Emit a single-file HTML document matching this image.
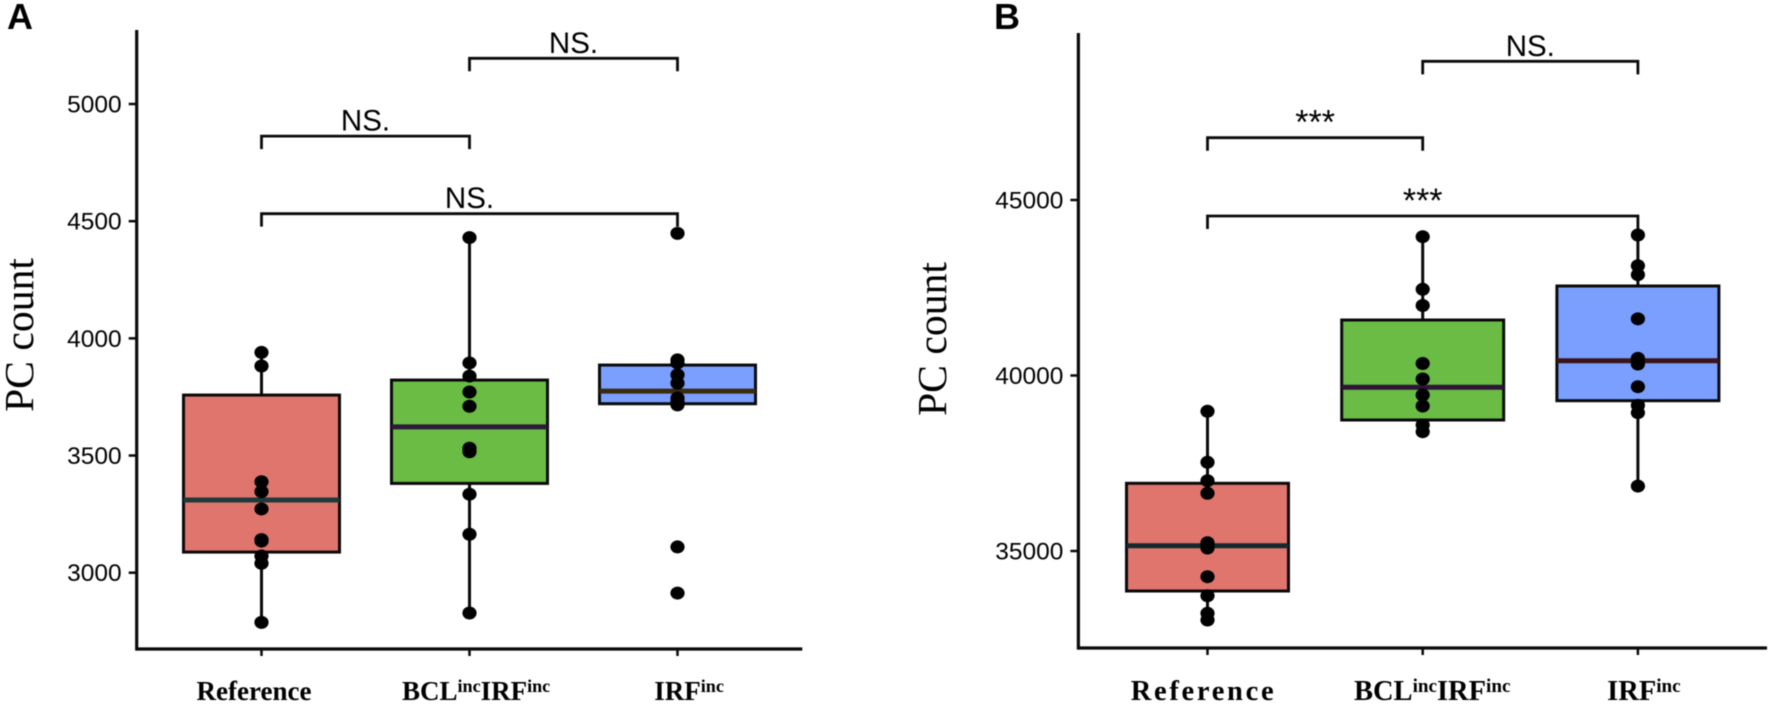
<!DOCTYPE html>
<html lang="en">
<head>
<meta charset="utf-8">
<title>PC count box plots</title>
<style>
html,body{margin:0;padding:0;background:#fff;width:1772px;height:705px;overflow:hidden}
svg{display:block;filter:blur(0.45px)}
text{fill:#000}
.tick{font-family:"Liberation Sans",sans-serif;font-size:24.5px}
.sig{font-family:"Liberation Sans",sans-serif;font-size:29.5px}
.stars{font-family:"Liberation Sans",sans-serif;font-size:34px}
.ytitle{font-family:"Liberation Serif",serif;font-size:41.7px}
.xlab{font-family:"Liberation Serif",serif;font-weight:bold}
.letter{font-family:"Liberation Sans",sans-serif;font-weight:bold;font-size:36px;fill:#000}
</style>
</head>
<body>
<svg id="figure" xmlns="http://www.w3.org/2000/svg" width="1772" height="705" viewBox="0 0 1772 705">
  <rect x="0" y="0" width="1772" height="705" fill="#fff"/>
  <text class="letter" x="7" y="29">A</text>
  <text class="letter" x="994" y="29">B</text>
  <g id="panelA"></g>
  <g id="panelB"></g>
</svg>
<script>
// Shared categories: each label alternates normal and superscript segments
const categoryKeys = ['reference', 'bcl-irf', 'irf'];
const categorySegments = [['Reference'], ['BCL', 'inc', 'IRF', 'inc'], ['IRF', 'inc']];
const yTitle = 'PC count';

// Panel A data
const aTicks = [3000, 3500, 4000, 4500, 5000];
const aQ1 = [3088, 3381, 3721];
const aMedian = [3310, 3622, 3775];
const aQ3 = [3758, 3822, 3886];
const aWhiskerLow = [2788, 2828, 3721];
const aWhiskerHigh = [3940, 4430, 3886];
const aPointsReference = [3940, 3882, 3388, 3346, 3272, 3141, 3135, 3071, 3040, 2788];
const aPointsBcl = [4430, 3895, 3839, 3771, 3710, 3531, 3516, 3335, 3164, 2828];
const aPointsIrf = [4448, 3908, 3895, 3844, 3809, 3745, 3730, 3716, 3110, 2913];
const aBracketFrom = [0, 0, 1];
const aBracketTo = [2, 1, 2];
const aBracketLevel = [4532, 4863, 5195];
const aBracketLabel = ['NS.', 'NS.', 'NS.'];

// Panel B data
const bTicks = [35000, 40000, 45000];
const bQ1 = [33860, 38732, 39282];
const bMedian = [35151, 39664, 40422];
const bQ3 = [36929, 41581, 42550];
const bWhiskerLow = [33034, 38399, 36850];
const bWhiskerHigh = [38980, 43954, 44003];
const bPointsReference = [38980, 37527, 37003, 36644, 35236, 35171, 35085, 34268, 33726, 33225, 33034];
const bPointsBcl = [43954, 42456, 41994, 40342, 39900, 39444, 39131, 38590, 38399];
const bPointsIrf = [44003, 43128, 42872, 41615, 40487, 40390, 40328, 39681, 39150, 38940, 36850];
const bBracketFrom = [0, 0, 1];
const bBracketTo = [2, 1, 2];
const bBracketLevel = [44544, 46775, 48951];
const bBracketLabel = ['***', '***', 'NS.'];

const SVGNS = 'http://www.w3.org/2000/svg';
const boxFills = ['#E0756E', '#6ABC45', '#7A9FFF'];

function mk(parent, tag, attrs, text) {
  const el = document.createElementNS(SVGNS, tag);
  for (const k in attrs) el.setAttribute(k, attrs[k]);
  if (text !== undefined) el.textContent = text;
  parent.appendChild(el);
  return el;
}

function drawPanel(cfg) {
  const g = document.getElementById(cfg.id);
  const x = i => cfg.x0 + cfg.dx * i;
  const y = v => cfg.yRef + (cfg.vRef - v) * cfg.yScale;
  const left = x(0) - cfg.dx * 0.6;
  const right = x(2) + cfg.dx * 0.6;
  const ink = '#0a0a0a';

  const yTitleEl = mk(g, 'text', {
    class: 'ytitle', x: 0, y: 0, 'text-anchor': 'middle',
    transform: 'translate(' + cfg.titleX + ',' + cfg.titleY + ') rotate(-90)'
  }, yTitle);
  
  

  // Boxes and whiskers
  categoryKeys.forEach((key, i) => {
    const whisker = mk(g, 'line', {
      x1: x(i), x2: x(i), y1: y(cfg.whiskerHigh[i]), y2: y(cfg.whiskerLow[i]),
      stroke: ink, 'stroke-width': 3
    });
    
    

    const box = mk(g, 'rect', {
      x: x(i) - cfg.halfBox, width: cfg.halfBox * 2,
      y: y(cfg.q3[i]), height: y(cfg.q1[i]) - y(cfg.q3[i]),
      fill: boxFills[i], stroke: ink, 'stroke-width': 3
    });
    
    

    const median = mk(g, 'line', {
      x1: x(i) - cfg.halfBox, x2: x(i) + cfg.halfBox,
      y1: y(cfg.median[i]), y2: y(cfg.median[i]),
      stroke: cfg.medianColors[i], 'stroke-width': 5
    });
    
    

    cfg.points[i].forEach(v => {
      const pt = mk(g, 'ellipse', { cx: x(i), cy: y(v), rx: 7.1, ry: 6.5, fill: '#000' });
      
      
    });
  });

  // Axes
  const yAxis = mk(g, 'line', { x1: left, x2: left, y1: cfg.axisTop, y2: cfg.axisBottom + 1.6, stroke: ink, 'stroke-width': 3.2 });
  
  
  const xAxis = mk(g, 'line', { x1: left, x2: right, y1: cfg.axisBottom, y2: cfg.axisBottom, stroke: ink, 'stroke-width': 3.2 });
  
  

  cfg.ticks.forEach(v => {
    const tick = mk(g, 'line', { x1: left - 8, x2: left, y1: y(v), y2: y(v), stroke: ink, 'stroke-width': 2.5 });
    
    
    const label = mk(g, 'text', { class: 'tick', x: left - 15, y: y(v) + 8.5, 'text-anchor': 'end' }, String(v));
    
    
  });

  categoryKeys.forEach((key, i) => {
    const tick = mk(g, 'line', { x1: x(i), x2: x(i), y1: cfg.axisBottom, y2: cfg.axisBottom + 7, stroke: ink, 'stroke-width': 2.5 });
    
    

    const label = mk(g, 'text', {
      class: 'xlab', x: x(i) + cfg.labelNudge[i], y: cfg.labelY, 'text-anchor': 'middle',
      'font-size': cfg.labelSize, 'letter-spacing': cfg.labelSpacing[i]
    });
    
    
    categorySegments[i].forEach((seg, s) => {
      const isSup = s % 2 === 1;
      const prevSup = s > 0 && !isSup;
      const attrs = {};
      if (isSup) { attrs['font-size'] = cfg.labelSize * 0.67; attrs.dy = -8; }
      if (prevSup) { attrs.dy = 8; }
      mk(label, 'tspan', attrs, seg);
    });
  });

  // Significance brackets
  cfg.bracketLevel.forEach((level, b) => {
    const xa = x(cfg.bracketFrom[b]);
    const xb = x(cfg.bracketTo[b]);
    const yb = y(level);
    const bracket = mk(g, 'path', {
      d: 'M' + xa + ' ' + (yb + 13) + 'V' + yb + 'H' + xb + 'V' + (yb + 13),
      fill: 'none', stroke: ink, 'stroke-width': 2.8
    });
    
    
    const isStars = cfg.bracketLabel[b] === '***';
    const label = mk(g, 'text', {
      class: isStars ? 'stars' : 'sig',
      x: (xa + xb) / 2, y: yb - (isStars ? 4 : 5.5), 'text-anchor': 'middle'
    }, cfg.bracketLabel[b]);
    
    
  });
}

drawPanel({
  id: 'panelA', x0: 261.5, dx: 208, halfBox: 78, yRef: 104, vRef: 5000, yScale: 0.23435,
  axisTop: 30, axisBottom: 649, titleX: 33, titleY: 335,
  labelY: 700, labelSize: 27, labelSpacing: [0, 0, 0], labelNudge: [-7.5, 6.6, 11.6],
  ticks: aTicks, q1: aQ1, median: aMedian, q3: aQ3,
  whiskerLow: aWhiskerLow, whiskerHigh: aWhiskerHigh,
  points: [aPointsReference, aPointsBcl, aPointsIrf],
  medianColors: ['#1f3a3a', '#2e1a3a', '#3a2a10'],
  bracketFrom: aBracketFrom, bracketTo: aBracketTo, bracketLevel: aBracketLevel, bracketLabel: aBracketLabel
});

drawPanel({
  id: 'panelB', x0: 1207.5, dx: 215.2, halfBox: 81, yRef: 200, vRef: 45000, yScale: 0.0351,
  axisTop: 33, axisBottom: 648, titleX: 946, titleY: 339,
  labelY: 700, labelSize: 28.5, labelSpacing: [2.7, 0, 0], labelNudge: [-4, 9.5, 6],
  ticks: bTicks, q1: bQ1, median: bMedian, q3: bQ3,
  whiskerLow: bWhiskerLow, whiskerHigh: bWhiskerHigh,
  points: [bPointsReference, bPointsBcl, bPointsIrf],
  medianColors: ['#14282e', '#2e1438', '#3a1418'],
  bracketFrom: bBracketFrom, bracketTo: bBracketTo, bracketLevel: bBracketLevel, bracketLabel: bBracketLabel
});
</script>
</body>
</html>
